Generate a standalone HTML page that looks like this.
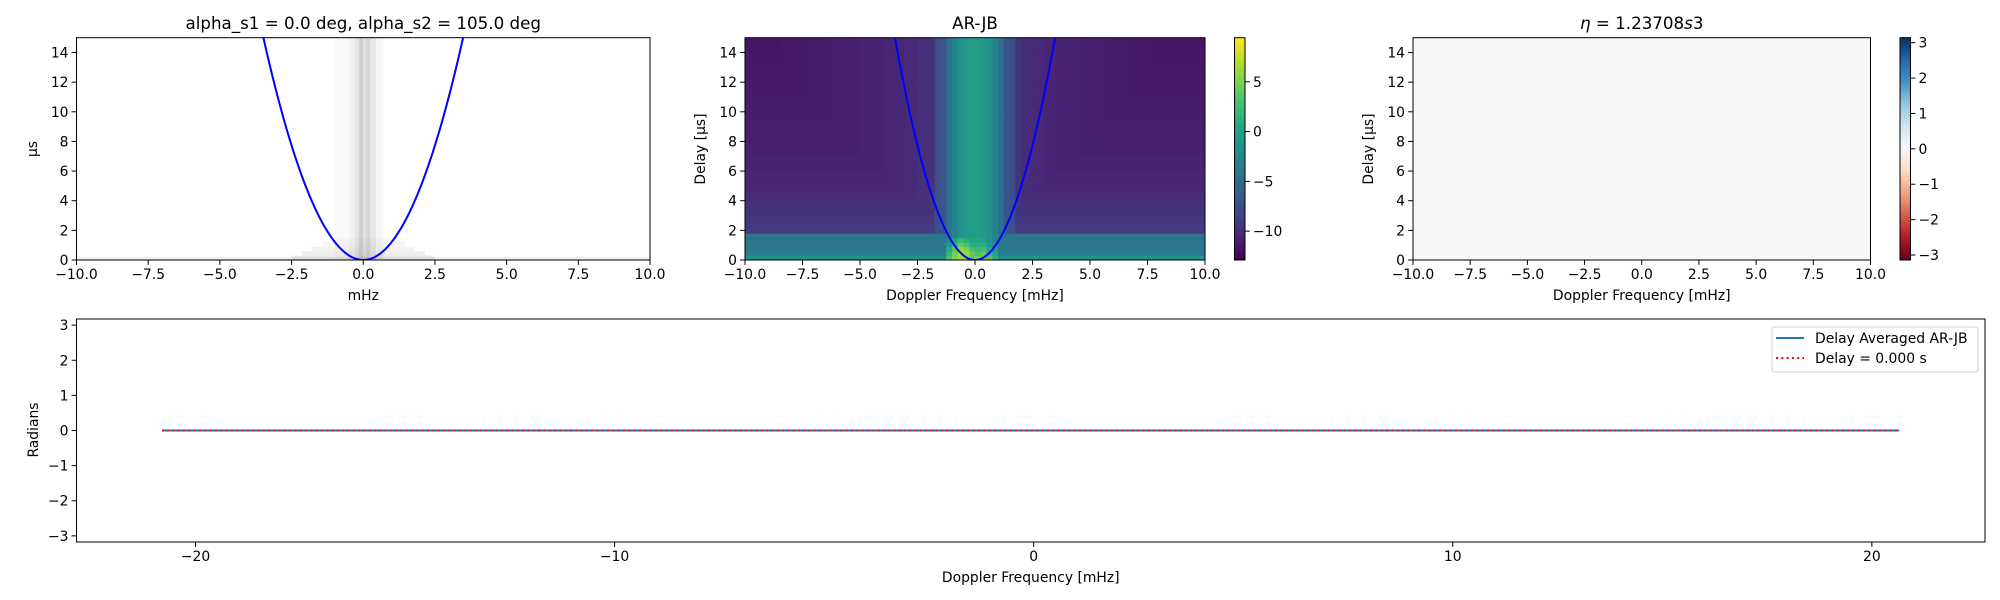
<!DOCTYPE html>
<html><head><meta charset="utf-8"><style>
html,body{margin:0;padding:0;background:#fff;}
svg{display:block;font-family:"DejaVu Sans","Liberation Sans",sans-serif;}
</style></head><body>
<svg id="fig" width="2000" height="600" viewBox="0 0 2000 600" xmlns="http://www.w3.org/2000/svg"></svg>
<script>
// ---- data ----
const eta = 1.23708;
const dopplerEdges = [-10,-9.5,-9,-8.5,-8,-7.5,-7,-6.5,-6,-5.5,-5,-4.5,-4,-3.5,-3,-2.5,-2,-1.75,-1.5,-1.25,-1,-0.75,-0.5,-0.25,0,0.25,0.5,0.75,1,1.25,1.5,1.75,2,2.5,3,3.5,4,4.5,5,5.5,6,6.5,7,7.5,8,8.5,9,9.5,10];
const colProfile = [-11.8,-11.7,-11.6,-11.5,-11.4,-11.3,-11.2,-11.1,-11,-10.9,-10.8,-10.7,-10.6,-10.4,-10.2,-9.9,-9.5,-7.5,-7.0,-4.5,-3.0,-1.5,-1.0,-0.5,-0.5,-1.0,-1.5,-3.0,-4.5,-7.0,-7.5,-9.5,-10,-10.3,-10.5,-10.7,-10.8,-10.9,-11,-11.1,-11.2,-11.3,-11.4,-11.5,-11.6,-11.7,-11.8,-11.9];
const delayEdges = [0,0.3,0.6,0.9,1.2,1.5,1.8,2.5,3,3.5,4,4.5,5,6,7,8,9,10,11,12,13,14,15];
const rowProfile = [-1.5,-3.5,-4.0,-4.0,-4.2,-4.2,-9.0,-9.3,-9.6,-9.9,-10.1,-10.3,-10.5,-10.7,-10.9,-11.0,-11.1,-11.2,-11.3,-11.4,-11.5,-11.6];
const coreF = [-1.25,-1,-0.75,-0.5,-0.25,0,0.25,0.5,0.75,1];
const coreRows = [
  [3.0,5.0,6.0,6.5,4.0,4.5,4.0,3.5,1.0],
  [2.0,4.5,6.5,6.0,4.0,3.0,4.0,2.0,0.0],
  [1.0,3.5,6.0,5.0,2.5,2.0,2.5,0.5,-1.0],
  [-1.0,2.0,4.0,3.0,1.0,1.0,1.0,-1.0,-2.0],
  [-2.0,0.0,2.0,1.0,0.0,0.0,0.0,-2.0,-3.0]
];
const grayCol = [0.02,0.05,0.1,0.18,0.12,0.16,0.1,0.04];
const grayColEdges = [-1.0,-0.5,-0.3,-0.15,0,0.1,0.25,0.45,0.7];
const phaseX = [-20.8,20.65];
const phaseAvg = [0,0];
const phaseDelay0 = [0,0];
const p1XTicks = [-10,-7.5,-5,-2.5,0,2.5,5,7.5,10];
const p1YTicks = [0,2,4,6,8,10,12,14];
const cb2Ticks = [5,0,-5,-10];
const cb3Ticks = [3,2,1,0,-1,-2,-3];
const botXTicks = [-20,-10,0,10,20];
const botYTicks = [-3,-2,-1,0,1,2,3];

const svg = document.getElementById('fig');
const NS = 'http://www.w3.org/2000/svg';
function mk(tag, attrs, parent){const e=document.createElementNS(NS,tag);for(const k in attrs)e.setAttribute(k,attrs[k]);(parent||svg).appendChild(e);return e;}
function txt(s,x,y,opts,parent){const e=mk('text',Object.assign({x:x,y:y,'font-size':13.9,fill:'#000'},opts||{}),parent);e.textContent=s;return e;}
function fmt(v,d){let s=v.toFixed(d);return s.replace('-','\u2212');}

const V=[[0.267,0.005,0.329],[0.283,0.141,0.458],[0.254,0.265,0.530],[0.207,0.372,0.553],[0.164,0.471,0.558],[0.128,0.567,0.551],[0.135,0.659,0.518],[0.267,0.749,0.441],[0.478,0.821,0.318],[0.741,0.873,0.150],[0.993,0.906,0.144]];
function viridis(t){t=Math.max(0,Math.min(1,t));const p=t*10,i=Math.min(9,Math.floor(p)),f=p-i;const a=V[i],b=V[i+1];return 'rgb('+[0,1,2].map(k=>Math.round(255*(a[k]+(b[k]-a[k])*f))).join(',')+')';}
const RB=[[0.404,0,0.122],[0.698,0.094,0.169],[0.839,0.376,0.302],[0.957,0.647,0.510],[0.992,0.859,0.780],[0.969,0.969,0.969],[0.820,0.898,0.941],[0.573,0.773,0.871],[0.263,0.576,0.765],[0.129,0.400,0.675],[0.020,0.188,0.380]];
function rdbu(t){t=Math.max(0,Math.min(1,t));const p=t*10,i=Math.min(9,Math.floor(p)),f=p-i;const a=RB[i],b=RB[i+1];return 'rgb('+[0,1,2].map(k=>Math.round(255*(a[k]+(b[k]-a[k])*f))).join(',')+')';}

function axes(name,x0,x1,y0,y1,xmin,xmax,ymin,ymax){
  return {name,x0,x1,y0,y1,sx:v=>x0+(v-xmin)/(xmax-xmin)*(x1-x0),sy:v=>y1-(v-ymin)/(ymax-ymin)*(y1-y0)};
}
function frame(a){mk('rect',{x:a.x0,y:a.y0,width:a.x1-a.x0,height:a.y1-a.y0,fill:'none',stroke:'#000','stroke-width':1,});}
function xticks(a,ticks,d,g){ticks.forEach(t=>{const x=a.sx(t);mk('line',{x1:x,x2:x,y1:a.y1,y2:a.y1+4.9,stroke:'#000','stroke-width':1},g);txt(fmt(t,d),x,a.y1+19,{'text-anchor':'middle'},g);});}
function yticks(a,ticks,d,g){ticks.forEach(t=>{const y=a.sy(t);mk('line',{x1:a.x0,x2:a.x0-4.9,y1:y,y2:y,stroke:'#000','stroke-width':1},g);txt(fmt(t,d),a.x0-8,y+5,{'text-anchor':'end'},g);});}
function clip(id,a){const c=mk('clipPath',{id:id});mk('rect',{x:a.x0,y:a.y0,width:a.x1-a.x0,height:a.y1-a.y0},c);return 'url(#'+id+')';}
function parabola(a,g,name){let d='';for(let i=0;i<=400;i++){const f=-4+8*i/400;d+=(i?'L':'M')+a.sx(f).toFixed(2)+','+a.sy(eta*f*f).toFixed(2);}const p=mk('path',{d:d,fill:'none',stroke:'#0000ff','stroke-width':2},g);}

// ---- panel 1 ----
const a1=axes('panel1',76.5,650,37.7,260,-10,10,0,15);
const g1=mk('g',{'clip-path':clip('c1',a1),});
for(let i=0;i<grayCol.length;i++){
  const x=a1.sx(grayColEdges[i]),w=a1.sx(grayColEdges[i+1])-x;const v=Math.round(255*(1-grayCol[i]));
  const r=mk('rect',{x:x,y:a1.y0,width:w,height:a1.y1-a1.y0,fill:'rgb('+v+','+v+','+v+')'},g1);
  
}
for(let r=0;r<5;r++){
  const y=a1.sy(delayEdges[r+1]),h=a1.sy(delayEdges[r])-y;const ext=2.5-r*0.35;
  const e=mk('rect',{x:a1.sx(-ext),y:y,width:a1.sx(ext)-a1.sx(-ext),height:h,fill:'#000','opacity':0.02+0.015*(4-r)},g1);
  
}
mk('rect',{x:a1.x0,y:a1.sy(0.2),width:a1.x1-a1.x0,height:a1.sy(0)-a1.sy(0.2),fill:'#000',opacity:0.06},g1);
parabola(a1,g1,'parabola-curve-1');
frame(a1);
const t1=mk('g',{});
xticks(a1,p1XTicks,1,t1);yticks(a1,p1YTicks,0,t1);
txt('alpha_s1 = 0.0 deg, alpha_s2 = 105.0 deg',(a1.x0+a1.x1)/2,29,{'text-anchor':'middle','font-size':16.7,});
txt('mHz',(a1.x0+a1.x1)/2,300,{'text-anchor':'middle',});
txt('\u00b5s',0,0,{'text-anchor':'middle',transform:'translate(37,149) rotate(-90)',});

// ---- panel 2 ----
const a2=axes('panel2',745,1205,37.7,260,-10,10,0,15);
const g2=mk('g',{'clip-path':clip('c2',a2),});
const vmin=-12.9,vmax=9.43;
for(let r=0;r<rowProfile.length;r++){
  for(let c=0;c<colProfile.length;c++){
    let v=Math.max(colProfile[c],rowProfile[r]);
    if(r===0) v=Math.max(v,-1.5);
    const fc=(dopplerEdges[c]+dopplerEdges[c+1])/2;
    const ci=coreF.findIndex((f,k)=>k<coreF.length-1&&fc>=f&&fc<coreF[k+1]);
    if(r<coreRows.length&&ci>=0) v=Math.max(v,coreRows[r][ci]);
    const x=a2.sx(dopplerEdges[c]),y=a2.sy(delayEdges[r+1]);
    const cell=mk('rect',{x:x,y:y,width:a2.sx(dopplerEdges[c+1])-x+0.5,height:a2.sy(delayEdges[r])-y+0.5,fill:viridis((v-vmin)/(vmax-vmin))},g2);
    
    
  }
}
parabola(a2,g2,'parabola-curve-2');
frame(a2);
const t2=mk('g',{});
xticks(a2,p1XTicks,1,t2);yticks(a2,p1YTicks,0,t2);
txt('AR-JB',(a2.x0+a2.x1)/2,29,{'text-anchor':'middle','font-size':16.7,});
txt('Doppler Frequency [mHz]',(a2.x0+a2.x1)/2,300,{'text-anchor':'middle',});
txt('Delay [\u03bcs]',0,0,{'text-anchor':'middle',transform:'translate(705,149) rotate(-90)',});
// colorbar 2
const cb2=axes('colorbar2',1234.5,1245,37.7,260,0,1,vmin,vmax);
const gc2=mk('g',{});
for(let i=0;i<100;i++){const v0=vmin+(vmax-vmin)*i/100,v1=vmin+(vmax-vmin)*(i+1)/100;mk('rect',{x:cb2.x0,y:cb2.sy(v1),width:cb2.x1-cb2.x0,height:cb2.sy(v0)-cb2.sy(v1)+0.5,fill:viridis((v0-vmin)/(vmax-vmin))},gc2);}
mk('rect',{x:cb2.x0,y:cb2.y0,width:cb2.x1-cb2.x0,height:cb2.y1-cb2.y0,fill:'none',stroke:'#000'},gc2);
cb2Ticks.forEach(t=>{const y=cb2.sy(t);mk('line',{x1:cb2.x1,x2:cb2.x1+4.9,y1:y,y2:y,stroke:'#000'},gc2);txt(fmt(t,0),cb2.x1+8,y+5,{},gc2);});

// ---- panel 3 ----
const a3=axes('panel3',1413,1870.5,37.7,260,-10,10,0,15);
mk('rect',{x:a3.x0,y:a3.y0,width:a3.x1-a3.x0,height:a3.y1-a3.y0,fill:rdbu(0.5),});
frame(a3);
const t3=mk('g',{});
xticks(a3,p1XTicks,1,t3);yticks(a3,p1YTicks,0,t3);
const tt=txt('',(a3.x0+a3.x1)/2,29,{'text-anchor':'middle','font-size':16.7,});
tt.innerHTML='<tspan font-style="italic">\u03b7</tspan> = 1.23708<tspan font-style="italic">s</tspan>3';
txt('Doppler Frequency [mHz]',(a3.x0+a3.x1)/2,300,{'text-anchor':'middle',});
txt('Delay [\u03bcs]',0,0,{'text-anchor':'middle',transform:'translate(1373,149) rotate(-90)',});
const cb3=axes('colorbar3',1900,1910.5,37.7,260,0,1,-Math.PI,Math.PI);
const gc3=mk('g',{});
for(let i=0;i<100;i++){const v0=-Math.PI+2*Math.PI*i/100,v1=-Math.PI+2*Math.PI*(i+1)/100;mk('rect',{x:cb3.x0,y:cb3.sy(v1),width:cb3.x1-cb3.x0,height:cb3.sy(v0)-cb3.sy(v1)+0.5,fill:rdbu(i/100)},gc3);}
mk('rect',{x:cb3.x0,y:cb3.y0,width:cb3.x1-cb3.x0,height:cb3.y1-cb3.y0,fill:'none',stroke:'#000'},gc3);
cb3Ticks.forEach(t=>{const y=cb3.sy(t);mk('line',{x1:cb3.x1,x2:cb3.x1+4.9,y1:y,y2:y,stroke:'#000'},gc3);txt(fmt(t,0),cb3.x1+8,y+5,{},gc3);});

// ---- bottom panel ----
const a4=axes('phase-panel',76.5,1985,319,542,-22.84,22.7,-3.175,3.175);
const g4=mk('g',{'clip-path':clip('c4',a4),});
function line(xs,ys,attrs,name){let d='';xs.forEach((x,i)=>{d+=(i?'L':'M')+a4.sx(x).toFixed(2)+','+a4.sy(ys[i]).toFixed(2);});const p=mk('path',Object.assign({d:d,fill:'none'},attrs),g4);}
line(phaseX,phaseAvg,{stroke:'#1f77b4','stroke-width':2},'delay-averaged-line');
line(phaseX,phaseDelay0,{stroke:'#ff0000','stroke-width':2,'stroke-dasharray':'2,3.3'},'delay-zero-line');
frame(a4);
const t4=mk('g',{});
xticks(a4,botXTicks,0,t4);yticks(a4,botYTicks,0,t4);
txt('Doppler Frequency [mHz]',(a4.x0+a4.x1)/2,582,{'text-anchor':'middle',});
txt('Radians',0,0,{'text-anchor':'middle',transform:'translate(38,430) rotate(-90)',});
// legend
const lg=mk('g',{});
mk('rect',{x:1772,y:327,width:206,height:45,rx:3,fill:'#fff',stroke:'#d0d0d0','fill-opacity':0.8},lg);
mk('line',{x1:1776,x2:1804,y1:338,y2:338,stroke:'#1f77b4','stroke-width':2,},lg);
txt('Delay Averaged  AR-JB',1815,343,{},lg);
mk('line',{x1:1776,x2:1804,y1:358,y2:358,stroke:'#ff0000','stroke-width':2,'stroke-dasharray':'2,3.3',},lg);
txt('Delay = 0.000 s',1815,363,{},lg);
</script>
</body></html>
